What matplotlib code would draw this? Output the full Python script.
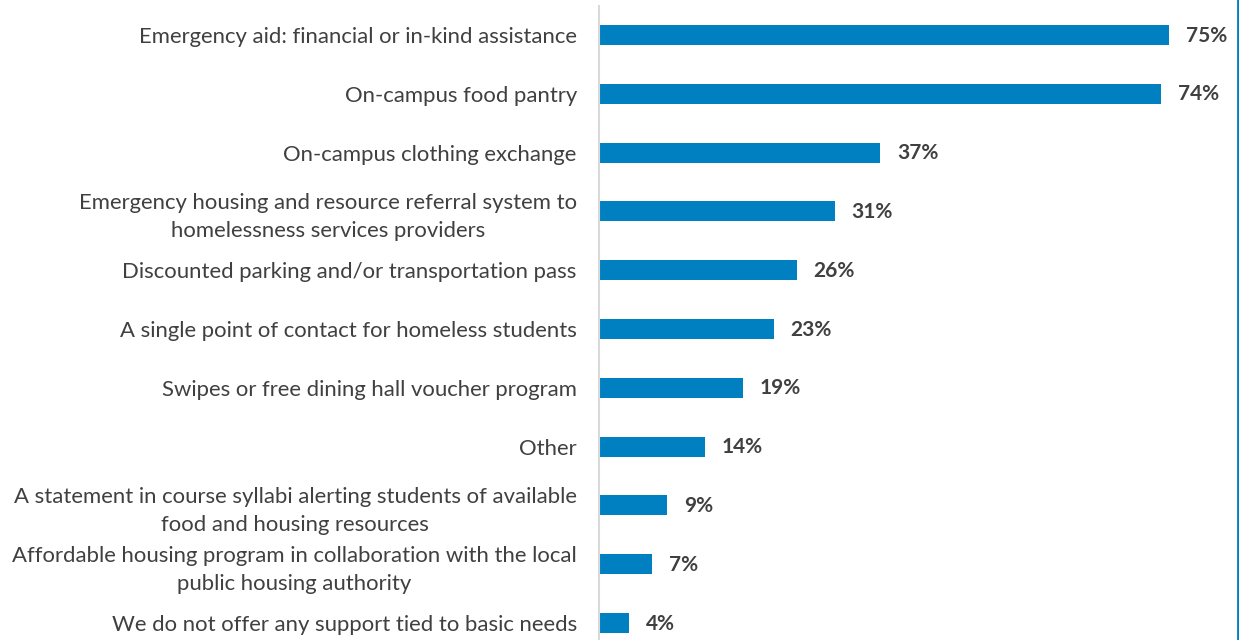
import matplotlib
matplotlib.use('Agg')
import matplotlib.pyplot as plt
from matplotlib.lines import Line2D

categories = [
    'Emergency aid: financial or in-kind assistance',
    'On-campus food pantry',
    'On-campus clothing exchange',
    'Emergency housing and resource referral system to\nhomelessness services providers',
    'Discounted parking and/or transportation pass',
    'A single point of contact for homeless students',
    'Swipes or free dining hall voucher program',
    'Other',
    'A statement in course syllabi alerting students of available\nfood and housing resources',
    'Affordable housing program in collaboration with the local\npublic housing authority',
    'We do not offer any support tied to basic needs',
]
values = [75, 74, 37, 31, 26, 23, 19, 14, 9, 7, 4]

BAR_COLOR = '#0080C0'
TEXT_COLOR = '#404040'
plt.rcParams['font.family'] = ['Lato', 'DejaVu Sans']

W, H = 1239, 640
fig = plt.figure(figsize=(W / 100, H / 100), dpi=100)
# axes in pixel coordinates: left 599, top 5.6, right 1237, bottom 640
ax = fig.add_axes([599 / W, 0, (1237 - 599) / W, (640 - 5.6) / H])

pos = list(range(len(categories)))
ax.barh(pos, values, height=0.34, color=BAR_COLOR)
ax.set_ylim(10.29, -0.5)
ax.set_xlim(0, (1237 - 599) / 7.6)

for y, v in zip(pos, values):
    ax.annotate('{}%'.format(v), (v, y), xytext=(12, -0.5),
                textcoords='offset points', va='center', ha='left',
                fontsize=15, fontweight='bold', color=TEXT_COLOR)

ax.set_yticks(pos)
ax.set_yticklabels(categories, fontsize=15.9, color=TEXT_COLOR,
                   multialignment='center', linespacing=1.5)
ax.tick_params(axis='y', length=0, pad=16)
ax.set_xticks([])
for side in ('top', 'right', 'bottom'):
    ax.spines[side].set_visible(False)
ax.spines['left'].set_color('#d9d9d9')
ax.spines['left'].set_linewidth(1.5)

# blue frame edge on the right
fig.add_artist(Line2D([1237.5 / W, 1237.5 / W], [0, 1],
                      transform=fig.transFigure, color=BAR_COLOR, lw=2))

fig.savefig('out.png', dpi=100)
